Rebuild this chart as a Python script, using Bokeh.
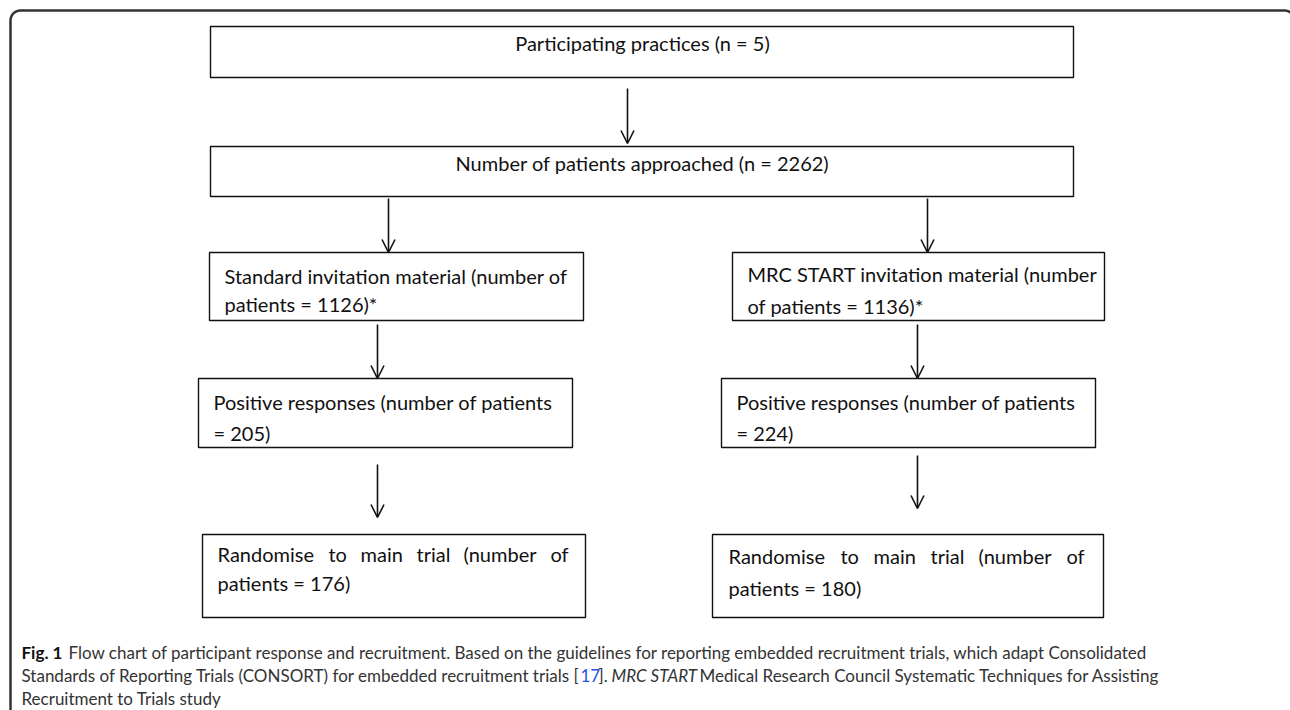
from bokeh.plotting import figure
from bokeh.models import Range1d, Arrow, OpenHead, ColumnDataSource
from bokeh.core.properties import value
from bokeh.embed import file_html
from bokeh.resources import INLINE
import numpy as np

# ---------------- data ----------------
practices_n = 5
approached_n = 2262
invited_n = [1126, 1136]        # standard, MRC START
positive_n = [205, 224]
randomised_n = [176, 180]

# ---------------- page / figure ----------------
W, H = 1290, 710
p = figure(width=W, height=H, x_range=Range1d(0, W), y_range=Range1d(H, 0),
           output_backend="svg", toolbar_location=None, min_border=0,
           x_axis_location=None, y_axis_location=None)
p.grid.visible = False
p.outline_line_color = None
p.background_fill_color = "white"
p.border_fill_color = "white"

BOX_FONT = value("Lato")
BOX_SIZE = "20px"
CAP_FONT = value("Lato")
CAP_SIZE = "17px"
INK = "#111111"

# outer rounded frame
t = np.linspace(0, np.pi / 2, 12)
fx = list(np.r_[[10], 20 - 10 * np.cos(t), [1284], 1284 + 10 * np.sin(t), [1294]])
fy = list(np.r_[[760], 20 - 10 * np.sin(t), [10], 20 - 10 * np.cos(t), [760]])
p.line(fx, fy, line_color="#333333", line_width=2.5)

# boxes (screen-like coordinates)
boxes = ColumnDataSource(dict(
    left=[210, 210, 209, 732, 198, 721, 202, 712],
    right=[1073, 1073, 583, 1104, 572, 1095, 585, 1103],
    top=[26, 146, 252, 252, 378, 378, 534, 534],
    bottom=[77, 196, 320, 320, 447, 447, 617, 617],
))
p.quad(left="left", right="right", top="top", bottom="bottom", source=boxes,
       fill_color=None, line_color=INK, line_width=1.4)

# arrows
arrows = ColumnDataSource(dict(
    x=[627, 388, 927, 377, 917, 377, 917],
    y0=[88, 198, 198, 324, 324, 464, 455],
    y1=[143, 252, 252, 378, 378, 517, 508],
))
p.add_layout(Arrow(end=OpenHead(size=13, line_width=1.6, line_color=INK),
                   x_start="x", y_start="y0", x_end="x", y_end="y1", source=arrows,
                   line_color=INK, line_width=1.6))

# centered texts
ctext = ColumnDataSource(dict(
    x=[642, 642], y=[42, 162],
    text=[f"Participating practices (n = {practices_n})",
          f"Number of patients approached (n = {approached_n})"],
))
p.text(x="x", y="y", text="text", source=ctext, text_font=BOX_FONT, text_font_size=BOX_SIZE,
       text_align="center", text_baseline="middle", text_color=INK)

# left aligned box texts
ltext = ColumnDataSource(dict(
    x=[224, 224, 747, 747, 213, 213, 736, 736, 217, 728],
    y=[275, 303, 273, 305, 401, 432, 401, 432, 582, 587],
    text=["Standard invitation material (number of",
          f"patients = {invited_n[0]})*",
          "MRC START invitation material (number",
          f"of patients = {invited_n[1]})*",
          "Positive responses (number of patients",
          f"= {positive_n[0]})",
          "Positive responses (number of patients",
          f"= {positive_n[1]})",
          f"patients = {randomised_n[0]})",
          f"patients = {randomised_n[1]})"],
))
p.text(x="x", y="y", text="text", source=ltext, text_font=BOX_FONT, text_font_size=BOX_SIZE,
       text_align="left", text_baseline="middle", text_color=INK)

# justified first line of the randomise boxes
words = ["Randomise", "to", "main", "trial", "(number", "of"]
jtext = ColumnDataSource(dict(
    x=[217, 328, 360, 416, 463, 550] + [728, 840, 873, 930, 978, 1066],
    y=[553] * 6 + [555] * 6,
    text=words + words,
))
p.text(x="x", y="y", text="text", source=jtext, text_font=BOX_FONT, text_font_size=BOX_SIZE,
       text_align="left", text_baseline="middle", text_color=INK)

# caption
CAP_COL = "#333333"
def cap(x, y, s, style="normal", color=CAP_COL):
    p.text(x=[x], y=[y], text=[s], text_font=CAP_FONT, text_font_size=CAP_SIZE,
           text_font_style=style, text_align="left", text_baseline="middle", text_color=color)

cap(21, 652, "Fig. 1", "bold", "#111111")
cap(68, 652, "Flow chart of participant response and recruitment. Based on the guidelines for "
             "reporting embedded recruitment trials, which adapt Consolidated")
cap(21, 675, "Standards of Reporting Trials (CONSORT) for embedded recruitment trials [")
cap(580, 675, "17", color="#2255dd")
cap(598, 675, "].")
cap(611, 675, "MRC START", "italic")
cap(699, 675, "Medical Research Council Systematic Techniques for Assisting")
cap(21, 698, "Recruitment to Trials study")

open("out.html", "w").write(file_html(p, INLINE))
